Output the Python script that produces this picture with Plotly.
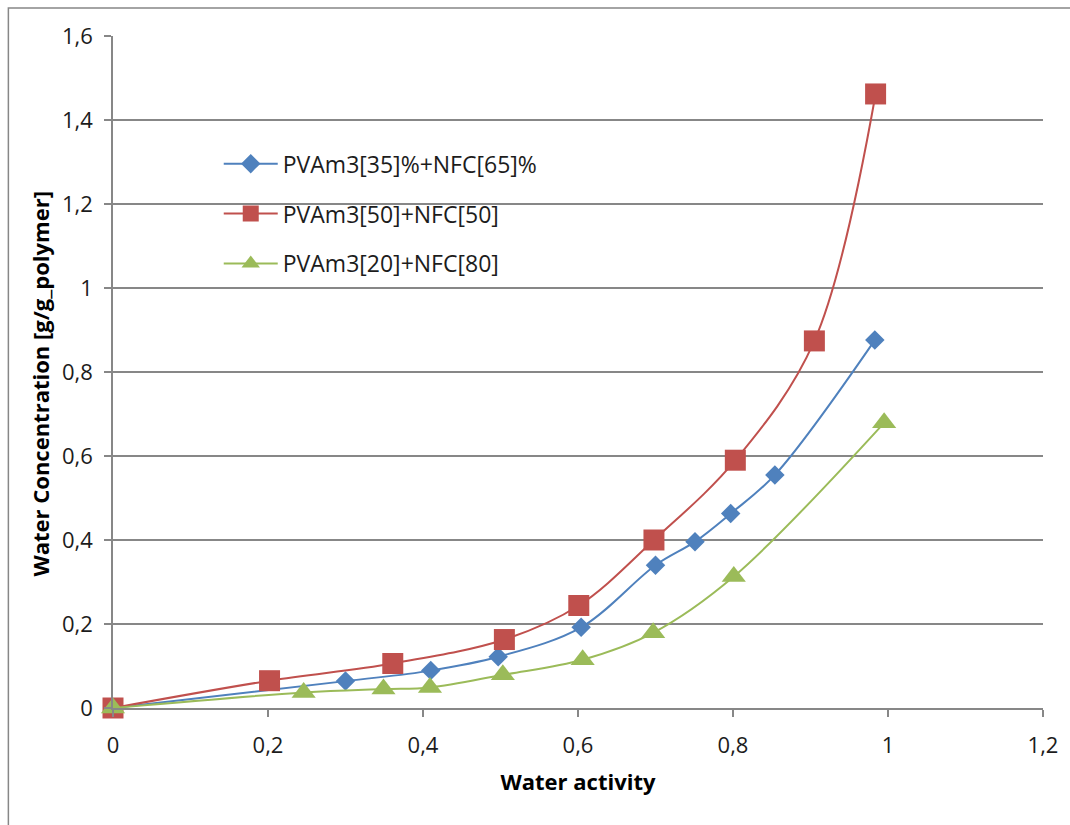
import plotly.graph_objects as go

# Sorption isotherms: water activity vs. water concentration
aw_blue = [0, 0.300, 0.410, 0.497, 0.604, 0.700, 0.751, 0.797, 0.854, 0.983]
wc_blue = [0, 0.064, 0.089, 0.122, 0.192, 0.340, 0.396, 0.463, 0.555, 0.876]

aw_red = [0, 0.202, 0.361, 0.505, 0.601, 0.698, 0.803, 0.905, 0.984]
wc_red = [0, 0.065, 0.106, 0.163, 0.244, 0.400, 0.590, 0.874, 1.462]

aw_green = [0, 0.246, 0.349, 0.409, 0.503, 0.606, 0.697, 0.801, 0.995]
wc_green = [0, 0.037, 0.045, 0.049, 0.079, 0.115, 0.179, 0.313, 0.679]

series_names = ["PVAm3[35]%+NFC[65]%", "PVAm3[50]+NFC[50]", "PVAm3[20]+NFC[80]"]

x_ticks = [0, 0.2, 0.4, 0.6, 0.8, 1.0, 1.2]
x_labels = ["0", "0,2", "0,4", "0,6", "0,8", "1", "1,2"]
y_ticks = [0, 0.2, 0.4, 0.6, 0.8, 1.0, 1.2, 1.4, 1.6]
y_labels = ["0", "0,2", "0,4", "0,6", "0,8", "1", "1,2", "1,4", "1,6"]

BLUE = "#4F81BD"
RED = "#C0504D"
GREEN = "#9BBB59"
GRID = "#878787"
FONT = "Open Sans"
TEXT = "#1c1c1c"

fig = go.Figure()

specs = [
    (aw_blue, wc_blue, series_names[0], BLUE, "diamond", 15),
    (aw_red, wc_red, series_names[1], RED, "square", 21),
    (aw_green, wc_green, series_names[2], GREEN, "triangle-up", 21),
]
for i, (xs, ys, name, color, symbol, size) in enumerate(specs):
    fig.add_trace(go.Scatter(
        x=xs, y=ys, name=name, mode="lines+markers",
        line=dict(color=color, width=2, shape="spline", smoothing=1.0),
        marker=dict(symbol=symbol, size=size, color=color,
                    line=dict(width=0)),
        legendgroup=f"g{i}", cliponaxis=False,
    ))

axis_common = dict(
    showline=True, linecolor=GRID, linewidth=1.5,
    ticks="outside", ticklen=7, tickcolor=GRID, tickwidth=1.5,
    zeroline=False,
    tickfont=dict(family=FONT, size=22, color=TEXT),
)

fig.update_xaxes(
    range=[0, 1.2], tickvals=x_ticks, ticktext=x_labels,
    showgrid=False, ticklabelstandoff=10,
    title=dict(text="<b>Water activity</b>",
               font=dict(family=FONT, size=22, color="#000000"), standoff=16),
    **axis_common,
)
fig.update_yaxes(
    range=[0, 1.6], tickvals=y_ticks, ticktext=y_labels,
    showgrid=True, gridcolor=GRID, gridwidth=1.5, ticklabelstandoff=7,
    **axis_common,
)

# y-axis title placed as rotated text
fig.add_annotation(
    text="<b>Water Concentration [g/g_polymer]</b>",
    textangle=-90, xref="paper", yref="paper",
    x=-0.078, y=0.482, xanchor="center", yanchor="middle",
    showarrow=False, font=dict(family=FONT, size=22, color="#000000"),
)

# white panel behind the legend, hiding the gridline it sits on
fig.add_shape(
    type="rect", xref="paper", yref="paper",
    x0=0.075, x1=0.5005, y0=0.634, y1=0.845,
    fillcolor="white", line=dict(width=0), layer="between",
)

# outer chart frame
fig.add_shape(
    type="rect", xref="paper", yref="paper",
    x0=-0.1125, x1=1.2, y0=-0.4, y1=1.0417,
    fillcolor="rgba(0,0,0,0)", line=dict(color=GRID, width=1.5),
    layer="below",
)

fig.update_layout(
    width=1070, height=825,
    margin=dict(l=113, r=24, t=36, b=117),
    paper_bgcolor="white", plot_bgcolor="white",
    showlegend=True,
    legend=dict(
        x=0.1137, y=0.842, xanchor="left", yanchor="top",
        bgcolor="rgba(0,0,0,0)", borderwidth=0,
        font=dict(family=FONT, size=23, color=TEXT),
        tracegroupgap=17, itemwidth=54,
    ),
)

fig.write_html("out.html")
